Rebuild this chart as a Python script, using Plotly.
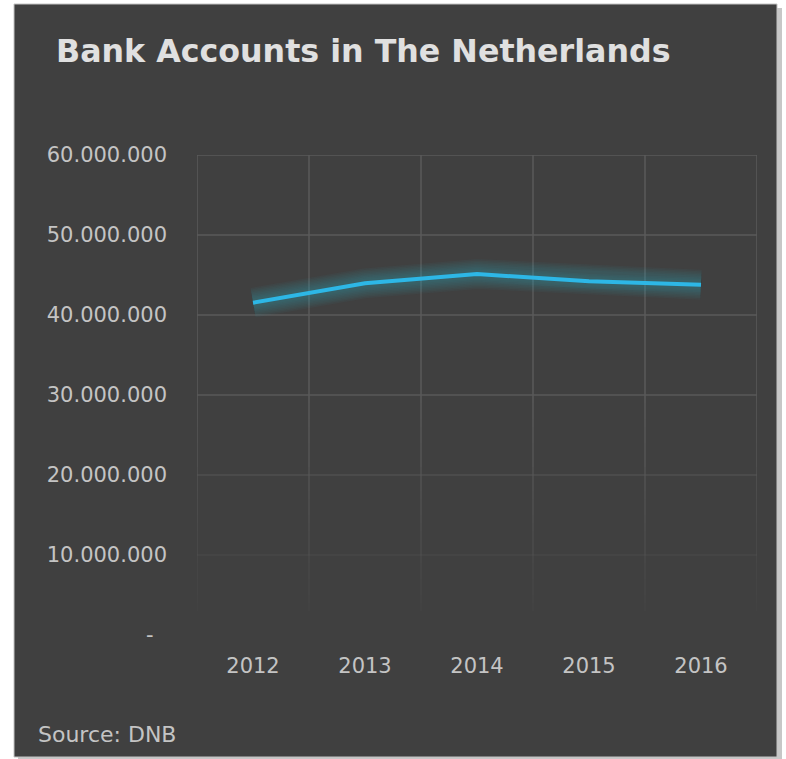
import plotly.graph_objects as go

years = ["2012", "2013", "2014", "2015", "2016"]
accounts = [41_540_000, 43_960_000, 45_120_000, 44_210_000, 43_790_000]
y_ticks = [0, 10_000_000, 20_000_000, 30_000_000, 40_000_000, 50_000_000, 60_000_000]
y_ticktext = ["-\u00a0\u00a0" if v == 0 else f"{v:,}".replace(",", ".") for v in y_ticks]

W, H = 786, 759
ML, MR, MT, MB = 197, 29, 155, 124
PW, PH = W - ML - MR, H - MT - MB


def px_x(px):
    return (px - ML) / PW


def px_y(py):
    return (H - MB - py) / PH


LINE = "#2db7e6"
FONT = "Verdana, DejaVu Sans, sans-serif"
GRID = "90,90,90"
Y_MAX = y_ticks[-1]


def h_alpha(v):
    return min(1.0, max(0.0, (v - 2_000_000) / (32_000_000 - 2_000_000)))


def v_alpha(v):
    return min(1.0, max(0.0, (v - 1_500_000) / (30_000_000 - 1_500_000))) ** 0.8


fig = go.Figure()
# soft glow layers
for w in [30, 27, 24, 21, 18, 15, 12, 9]:
    fig.add_trace(go.Scatter(x=years, y=accounts, mode="lines",
                             line=dict(color="rgba(45,175,215,0.045)", width=w),
                             hoverinfo="skip", showlegend=False))
fig.add_trace(go.Scatter(x=years, y=accounts, mode="lines",
                         line=dict(color=LINE, width=4),
                         showlegend=False))

shapes = []
# card shadow and card
shapes.append(dict(type="rect", xref="paper", yref="paper", layer="below",
                   x0=px_x(18), x1=px_x(782), y0=px_y(759), y1=px_y(8),
                   fillcolor="rgba(0,0,0,0.22)", line=dict(width=0)))
shapes.append(dict(type="rect", xref="paper", yref="paper", layer="below",
                   x0=px_x(14), x1=px_x(777), y0=px_y(757), y1=px_y(4),
                   fillcolor="#404040", line=dict(color="#c4c4c4", width=1)))

# horizontal grid lines
for v in y_ticks[1:]:
    a = h_alpha(v)
    shapes.append(dict(type="line", xref="x", yref="y", layer="below",
                       x0=-0.5, x1=len(years) - 0.5, y0=v, y1=v,
                       line=dict(color=f"rgba({GRID},{a:.3f})", width=1.5)))
# vertical grid lines at category boundaries, fading downward
seg = 1_000_000
for i in range(len(years) + 1):
    xb = i - 0.5
    top = Y_MAX
    while top > 1_000_000:
        bot = top - seg
        a = v_alpha((top + bot) / 2)
        shapes.append(dict(type="line", xref="x", yref="y", layer="below",
                           x0=xb, x1=xb, y0=bot, y1=top,
                           line=dict(color=f"rgba({GRID},{a:.3f})", width=1.5)))
        top = bot

fig.update_layout(
    width=W, height=H,
    margin=dict(l=ML, r=MR, t=MT, b=MB),
    paper_bgcolor="white",
    plot_bgcolor="rgba(0,0,0,0)",
    shapes=shapes,
    title=dict(text="<b>Bank Accounts in The Netherlands</b>",
               font=dict(family=FONT, size=31.7, color="#e0e0e0"),
               x=56 / W, xanchor="left", xref="container",
               y=1 - 51 / H, yanchor="middle", yref="container"),
    xaxis=dict(type="category", range=[-0.5, len(years) - 0.5], showgrid=False,
               ticks="", showline=False, zeroline=False, ticklabelstandoff=16,
               tickfont=dict(family=FONT, size=21, color="#c4c4c4")),
    yaxis=dict(range=[0, Y_MAX], tickvals=y_ticks, ticktext=y_ticktext,
               showgrid=False, zeroline=False, ticks="", showline=False,
               ticklabelstandoff=29,
               tickfont=dict(family=FONT, size=21, color="#c4c4c4")),
    annotations=[dict(text="Source: DNB", xref="paper", yref="paper",
                      x=px_x(36), y=px_y(734), xanchor="left", yanchor="middle",
                      showarrow=False,
                      font=dict(family=FONT, size=22, color="#c4c4c4"))],
)

fig.write_html("out.html")
